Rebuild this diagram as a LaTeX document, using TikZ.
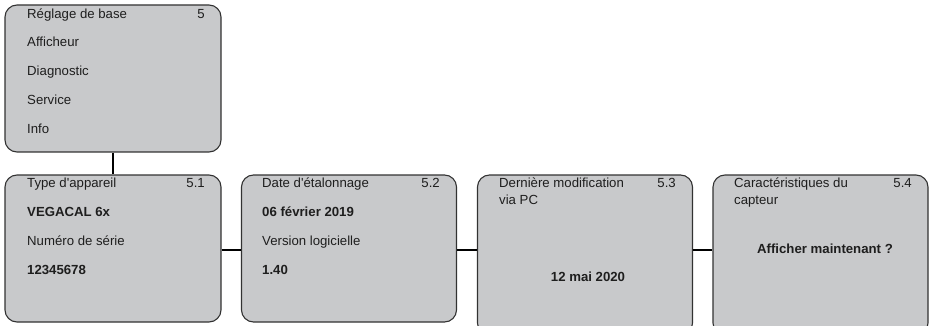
\documentclass[tikz,border=0pt]{standalone}
\usepackage{fontspec}
\setmainfont{Liberation Sans}[Ligatures=TeXOff]
\definecolor{boxfill}{RGB}{200,201,203}
\definecolor{boxline}{RGB}{50,50,50}
\definecolor{txt}{RGB}{30,30,30}
\begin{document}
\begin{tikzpicture}[x=1pt,y=-1pt,
  menubox/.style={draw=boxline, fill=boxfill, line width=1.1pt, rounded corners=12pt},
  lbl/.style={anchor=mid west, inner sep=0pt, text=txt, font=\fontsize{13.2}{14.5}\selectfont},
  bl/.style={lbl, font=\fontsize{13.2}{14.5}\selectfont\bfseries},
  num/.style={anchor=mid east, inner sep=0pt, text=txt, font=\fontsize{13.2}{14.5}\selectfont},
  conn/.style={line width=2.4pt, black}]
\useasboundingbox (0,0) rectangle (929,326);
\clip (0,0) rectangle (929,326);
% boxes
\node[menubox, minimum width=216pt, minimum height=147pt, inner sep=0pt] (top) at (113,78.5) {};
\node[menubox, minimum width=216pt, minimum height=147pt, inner sep=0pt] (b1) at (113,248.5) {};
\node[menubox, minimum width=215pt, minimum height=147pt, inner sep=0pt] (b2) at (349,248.5) {};
\node[menubox, minimum width=215pt, minimum height=160pt, inner sep=0pt] (b3) at (585,255) {};
\node[menubox, minimum width=215pt, minimum height=160pt, inner sep=0pt] (b4) at (820.5,255) {};
% connectors
\draw[conn] (top.south) -- (b1.north);
\coordinate (hy) at (0,250);
\draw[conn] (b1.east |- hy) -- (b2.west |- hy);
\draw[conn] (b2.east |- hy) -- (b3.west |- hy);
\draw[conn] (b3.east |- hy) -- (b4.west |- hy);
% top box texts
\node[lbl] (t0) at (27,16) {Réglage de base};
\node[num] (t0n) at (205,16) {5};
\node[lbl] (t1) at (27,44) {Afficheur};
\node[lbl] (t2) at (27,73) {Diagnostic};
\node[lbl] (t3) at (27,102) {Service};
\node[lbl] (t4) at (27,131) {Info};
% box 1
\node[lbl] (a1) at (27,185) {Type d'appareil};
\node[num] (a1n) at (205,185) {5.1};
\node[bl] (a2) at (27,214) {VEGACAL 6x};
\node[lbl] (a3) at (27,243) {Numéro de série};
\node[bl] (a4) at (27,272) {12345678};
% box 2
\node[lbl] (c1) at (262,185) {Date d'étalonnage};
\node[num] (c1n) at (440,185) {5.2};
\node[bl] (c2) at (262,214) {06 février 2019};
\node[lbl] (c3) at (262,243) {Version logicielle};
\node[bl] (c4) at (262,272) {1.40};
% box 3
\node[lbl] (d1) at (499,185) {Dernière modification};
\node[lbl] (d2) at (499,202) {via PC};
\node[num] (d1n) at (676,185) {5.3};
\node[bl, anchor=mid] (d3) at (588,279) {12 mai 2020};
% box 4
\node[lbl] (e1) at (734,185) {Caractéristiques du};
\node[lbl] (e2) at (734,202) {capteur};
\node[num] (e1n) at (912,185) {5.4};
\node[bl, anchor=mid] (e3) at (825,251) {Afficher maintenant ?};
\end{tikzpicture}
\end{document}
